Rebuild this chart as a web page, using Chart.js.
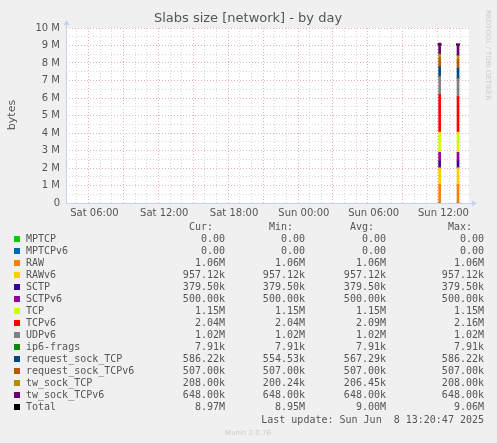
<!DOCTYPE html>
<html>
<head>
<meta charset="utf-8">
<script src="https://cdn.jsdelivr.net/npm/chart.js@4/dist/chart.umd.min.js"></script>
<style>
  html, body { margin: 0; padding: 0; background: #f0f0f0; }
  #wrap { position: relative; width: 497px; height: 443px; }
</style>
</head>
<body>
<div id="wrap"><canvas id="slabs" width="497" height="443"></canvas></div>
<script>
// hours counted from Sat 00:00; samples only exist near the right edge
const sampleHours = [35.67, 37.25];
const seriesNames = ['MPTCP', 'MPTCPv6', 'RAW', 'RAWv6', 'SCTP', 'SCTPv6', 'TCP', 'TCPv6',
  'UDPv6', 'ip6-frags', 'request_sock_TCP', 'request_sock_TCPv6', 'tw_sock_TCP', 'tw_sock_TCPv6'];
const seriesColors = ['#00cc00', '#0066b3', '#ff8000', '#ffcc00', '#330099', '#990099', '#ccff00', '#ff0000',
  '#808080', '#008f00', '#00487d', '#b35a00', '#b38f00', '#6b006b'];
// bytes at the two samples
const seriesValues = [
  [0, 0], [0, 0], [1.06e6, 1.06e6], [957.12e3, 957.12e3], [379.5e3, 379.5e3], [500e3, 500e3],
  [1.15e6, 1.15e6], [2.16e6, 2.04e6], [1.02e6, 1.02e6], [7.91e3, 7.91e3], [554.53e3, 586.22e3],
  [507e3, 507e3], [200.24e3, 208e3], [648e3, 648e3]
];
const totalValues = [9.06e6, 9.06e6];
// legend columns
const legendCur = ['0.00', '0.00', '1.06M', '957.12k', '379.50k', '500.00k', '1.15M', '2.04M', '1.02M', '7.91k', '586.22k', '507.00k', '208.00k', '648.00k', '8.97M'];
const legendMin = ['0.00', '0.00', '1.06M', '957.12k', '379.50k', '500.00k', '1.15M', '2.04M', '1.02M', '7.91k', '554.53k', '507.00k', '200.24k', '648.00k', '8.95M'];
const legendAvg = ['0.00', '0.00', '1.06M', '957.12k', '379.50k', '500.00k', '1.15M', '2.09M', '1.02M', '7.91k', '567.29k', '507.00k', '206.45k', '648.00k', '9.00M'];
const legendMax = ['0.00', '0.00', '1.06M', '957.12k', '379.50k', '500.00k', '1.15M', '2.16M', '1.02M', '7.91k', '586.22k', '507.00k', '208.00k', '648.00k', '9.06M'];
const dayLabels = { 6: 'Sat 06:00', 12: 'Sat 12:00', 18: 'Sat 18:00', 24: 'Sun 00:00', 30: 'Sun 06:00', 36: 'Sun 12:00' };

const datasets = seriesNames.map((name, i) => ({
  type: 'bar',
  label: name,
  data: sampleHours.map((h, j) => ({ x: h, y: seriesValues[i][j] })),
  backgroundColor: seriesColors[i],
  barThickness: 2,
  stack: 's'
}));
datasets.push({
  type: 'line',
  label: 'Total',
  data: sampleHours.map((h, j) => ({ x: h, y: totalValues[j] })),
  showLine: false,
  pointStyle: 'line',
  pointRadius: 2,
  borderColor: '#000',
  borderWidth: 2,
  stack: 't'
});

const decorations = {
  id: 'decorations',
  afterDraw(chart) {
    const ctx = chart.ctx;
    const a = chart.chartArea;
    ctx.save();
    // title
    ctx.fillStyle = '#555';
    ctx.font = '13px "DejaVu Sans"';
    ctx.textAlign = 'center';
    ctx.textBaseline = 'middle';
    ctx.fillText('Slabs size [network] - by day', 248, 19);
    // y title
    ctx.save();
    ctx.translate(12, 115);
    ctx.rotate(-Math.PI / 2);
    ctx.font = '11px "DejaVu Sans"';
    ctx.fillText('bytes', 0, 0);
    ctx.restore();
    // side credit
    ctx.save();
    ctx.translate(488, 55);
    ctx.rotate(Math.PI / 2);
    ctx.fillStyle = '#ccc';
    ctx.font = '7px "DejaVu Sans"';
    ctx.fillText('RRDTOOL / TOBI OETIKER', 0, 0);
    ctx.restore();
    // axis lines and arrows
    ctx.strokeStyle = '#c8d0f0';
    ctx.fillStyle = '#c8d0f0';
    ctx.lineWidth = 1;
    ctx.beginPath();
    ctx.moveTo(a.left + 0.5, a.bottom); ctx.lineTo(a.left + 0.5, a.top - 4);
    ctx.moveTo(a.left, a.bottom + 0.5); ctx.lineTo(a.right + 4, a.bottom + 0.5);
    ctx.stroke();
    ctx.beginPath();
    ctx.moveTo(a.left - 2.5, a.top - 3); ctx.lineTo(a.left + 3.5, a.top - 3); ctx.lineTo(a.left + 0.5, a.top - 8); ctx.fill();
    ctx.beginPath();
    ctx.moveTo(a.right + 3, a.bottom - 2.5); ctx.lineTo(a.right + 3, a.bottom + 3.5); ctx.lineTo(a.right + 8, a.bottom + 0.5); ctx.fill();
    // legend table
    ctx.font = '10px "DejaVu Sans Mono"';
    ctx.fillStyle = '#555';
    ctx.textAlign = 'right';
    const cols = [[225, 'Cur:', legendCur], [305, 'Min:', legendMin], [386, 'Avg:', legendAvg], [484, 'Max:', legendMax]];
    cols.forEach(c => ctx.fillText(c[1], c[0] - 12, 227));
    const names = seriesNames.concat(['Total']);
    const colors = seriesColors.concat(['#000000']);
    names.forEach((n, i) => {
      const y = 239 + i * 12;
      ctx.fillStyle = colors[i];
      ctx.fillRect(14, y - 3, 6, 6);
      ctx.fillStyle = '#555';
      ctx.textAlign = 'left';
      ctx.fillText(n, 26, y);
      ctx.textAlign = 'right';
      cols.forEach(c => ctx.fillText(c[2][i], c[0], y));
    });
    ctx.fillText('Last update: Sun Jun  8 13:20:47 2025', 484, 420);
    ctx.fillStyle = '#ccc';
    ctx.font = '7px "DejaVu Sans"';
    ctx.textAlign = 'center';
    ctx.fillText('Munin 2.0.76', 248, 433);
    ctx.restore();
  }
};

new Chart(document.getElementById('slabs'), {
  type: 'bar',
  data: { datasets },
  options: {
    responsive: false,
    animation: false,
    layout: { padding: { top: 28, right: 28, left: 0, bottom: 0 } },
    plugins: { legend: { display: false }, tooltip: { enabled: false } },
    scales: {
      x: {
        type: 'linear',
        min: 4.08,
        max: 37.67,
        stacked: true,
        afterBuildTicks(s) {
          const t = [];
          for (let h = 5; h <= 37; h++) t.push({ value: h });
          s.ticks = t;
        },
        afterFit(s) { s.height = 240; },
        grid: {
          color: c => (c.tick && c.tick.value % 3 === 0) ? '#e8b0b0' : '#d8d8d8',
          drawTicks: false,
          lineWidth: 1
        },
        border: { display: false, dash: [1, 2] },
        ticks: {
          autoSkip: false,
          maxRotation: 0,
          padding: 4,
          color: '#555',
          font: { family: 'DejaVu Sans', size: 10 },
          callback: v => dayLabels[v] || ''
        }
      },
      y: {
        min: 0,
        max: 10e6,
        stacked: true,
        afterBuildTicks(s) {
          const t = [];
          for (let k = 0; k <= 20; k++) t.push({ value: k * 0.5e6 });
          s.ticks = t;
        },
        afterFit(s) { s.width = 66; },
        grid: {
          color: c => (c.tick && c.tick.value % 1e6 === 0) ? '#e8b0b0' : '#d8d8d8',
          drawTicks: false
        },
        border: { display: false, dash: [1, 2] },
        ticks: {
          autoSkip: false,
          padding: 6,
          color: '#555',
          font: { family: 'DejaVu Sans', size: 10 },
          callback: v => v === 0 ? '0' : (v % 1e6 === 0 ? (v / 1e6) + ' M' : '')
        }
      }
    }
  },
  plugins: [
    {
      id: 'plotBg',
      beforeDraw(chart) {
        const a = chart.chartArea;
        chart.ctx.fillStyle = '#ffffff';
        chart.ctx.fillRect(a.left, a.top, a.right - a.left, a.bottom - a.top);
      }
    },
    decorations
  ]
});
</script>
</body>
</html>
